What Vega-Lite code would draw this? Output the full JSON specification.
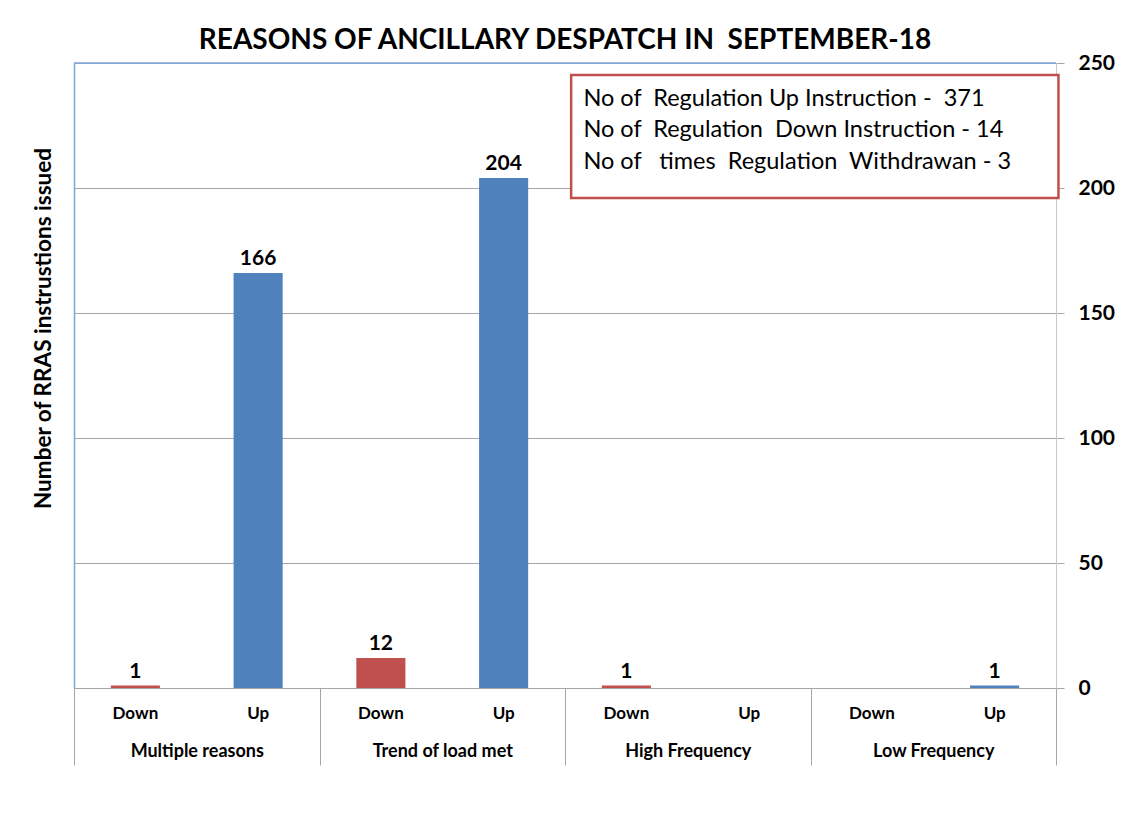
{
  "$schema": "https://vega.github.io/schema/vega-lite/v6.json",
  "width": 982,
  "height": 625,
  "autosize": {"type": "none"},
  "padding": {"left": 74, "top": 63, "right": 65, "bottom": 126},
  "background": "white",
  "title": {
    "text": "REASONS OF ANCILLARY DESPATCH IN\u00a0\u00a0SEPTEMBER-18",
    "font": "Lato",
    "fontSize": 28,
    "fontWeight": "bold",
    "color": "black",
    "anchor": "middle",
    "frame": "group",
    "offset": -3
  },
  "config": {"view": {"stroke": null}, "font": "Lato"},
  "layer": [
    {
      "data": {
        "values": [
          {"key": "Multiple reasons|Down", "dir": "Down", "count": 1},
          {"key": "Multiple reasons|Up", "dir": "Up", "count": 166},
          {"key": "Trend of load met|Down", "dir": "Down", "count": 12},
          {"key": "Trend of load met|Up", "dir": "Up", "count": 204},
          {"key": "High Frequency|Down", "dir": "Down", "count": 1},
          {"key": "High Frequency|Up", "dir": "Up", "count": null},
          {"key": "Low Frequency|Down", "dir": "Down", "count": null},
          {"key": "Low Frequency|Up", "dir": "Up", "count": 1}
        ]
      },
      "encoding": {
        "x": {
          "field": "key",
          "type": "nominal",
          "sort": null,
          "scale": {
            "domain": ["Multiple reasons|Down", "Multiple reasons|Up", "Trend of load met|Down", "Trend of load met|Up", "High Frequency|Down", "High Frequency|Up", "Low Frequency|Down", "Low Frequency|Up"],
            "paddingInner": 0.6,
            "paddingOuter": 0.3
          },
          "axis": {
            "orient": "bottom",
            "title": null,
            "labelExpr": "split(datum.label, '|')[1]",
            "labelAngle": 0,
            "ticks": false,
            "labelPadding": 17,
            "labelFont": "Lato",
            "labelFontSize": 17,
            "labelFontWeight": "bold",
            "labelColor": "black",
            "domainColor": "#a6a6a6",
            "grid": false
          }
        },
        "y": {
          "field": "count",
          "type": "quantitative",
          "scale": {"domain": [0, 250], "nice": false},
          "axis": {
            "orient": "right",
            "title": null,
            "values": [0, 50, 100, 150, 200, 250],
            "grid": true,
            "gridColor": "#a6a6a6",
            "domainColor": "#c8c8c8",
            "tickColor": "#a6a6a6",
            "tickSize": 8,
            "labelPadding": 14,
            "labelFont": "Lato",
            "labelFontSize": 21,
            "labelFontWeight": "bold",
            "labelColor": "black"
          }
        }
      },
      "layer": [
        {
          "mark": {"type": "bar"},
          "encoding": {
            "color": {
              "field": "dir",
              "type": "nominal",
              "scale": {"domain": ["Down", "Up"], "range": ["#C0504D", "#4F81BD"]},
              "legend": null
            }
          }
        },
        {
          "mark": {"type": "text", "baseline": "bottom", "dy": -4, "fontSize": 21, "fontWeight": "bold", "color": "black", "font": "Lato"},
          "encoding": {"text": {"field": "count", "type": "quantitative"}}
        }
      ]
    },
    {
      "data": {
        "values": [
          {"group": "Multiple reasons", "zero": 0},
          {"group": "Trend of load met", "zero": 0},
          {"group": "High Frequency", "zero": 0},
          {"group": "Low Frequency", "zero": 0}
        ]
      },
      "mark": {"type": "point", "opacity": 0},
      "encoding": {
        "x": {
          "field": "group",
          "type": "nominal",
          "sort": null,
          "scale": {"paddingInner": 0, "paddingOuter": 0},
          "axis": {
            "orient": "bottom",
            "title": null,
            "labelAngle": 0,
            "tickBand": "extent",
            "tickSize": 77,
            "tickColor": "#a6a6a6",
            "domain": false,
            "labelPadding": -23,
            "labelFont": "Lato",
            "labelFontSize": 18,
            "labelFontWeight": "bold",
            "labelColor": "black"
          }
        },
        "y": {
          "field": "zero",
          "type": "quantitative",
          "scale": {"domain": [0, 250], "nice": false},
          "axis": {
            "orient": "left",
            "labels": false,
            "ticks": false,
            "grid": false,
            "domainColor": "#7ca6d8",
            "domainWidth": 1.5,
            "title": "Number of RRAS instrustions issued",
            "titleFont": "Lato",
            "titleFontSize": 22.5,
            "titleFontWeight": "bold",
            "titleColor": "black",
            "titlePadding": 19,
            "titleY": 265
          }
        }
      }
    },
    {
      "data": {"values": [{"top": 250}]},
      "mark": {"type": "rule", "color": "#7ca6d8", "strokeWidth": 1.5},
      "encoding": {"y": {"field": "top", "type": "quantitative", "scale": {"domain": [0, 250], "nice": false}, "axis": null}}
    },
    {
      "layer": [
        {
          "data": {"values": [{"bx1": 4.05, "bx2": 8.02, "by1": 245.2, "by2": 196}]},
          "mark": {"type": "rect", "fill": "white", "stroke": "#C0504D", "strokeWidth": 2.5, "clip": false},
          "encoding": {
            "x": {"field": "bx1", "type": "quantitative", "scale": {"domain": [0, 8], "nice": false}, "axis": null},
            "x2": {"field": "bx2"},
            "y": {"field": "by1", "type": "quantitative", "scale": {"domain": [0, 250], "nice": false}, "axis": null},
            "y2": {"field": "by2"}
          }
        },
        {
          "data": {
            "values": [
              {"line": "No of\u00a0\u00a0Regulation Up Instruction -\u00a0\u00a0371", "tx": 4.15, "ty": 235.6},
              {"line": "No of\u00a0\u00a0Regulation\u00a0\u00a0Down Instruction - 14", "tx": 4.15, "ty": 223.2},
              {"line": "No of\u00a0\u00a0\u00a0times\u00a0\u00a0Regulation\u00a0\u00a0Withdrawan - 3", "tx": 4.15, "ty": 210.4}
            ]
          },
          "mark": {"type": "text", "align": "left", "baseline": "middle", "fontSize": 23.5, "font": "Lato", "color": "black"},
          "encoding": {
            "x": {"field": "tx", "type": "quantitative", "scale": {"domain": [0, 8], "nice": false}, "axis": null},
            "y": {"field": "ty", "type": "quantitative", "scale": {"domain": [0, 250], "nice": false}, "axis": null},
            "text": {"field": "line"}
          }
        }
      ]
    }
  ],
  "resolve": {"scale": {"x": "independent"}, "axis": {"y": "independent"}}
}
